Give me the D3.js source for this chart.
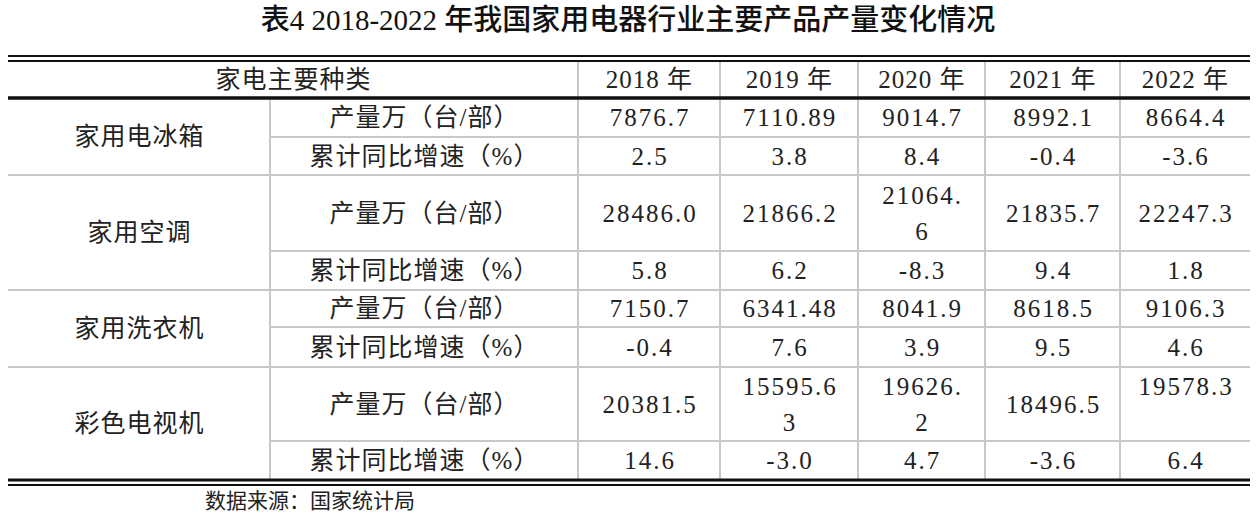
<!DOCTYPE html>
<html><head><meta charset="utf-8">
<script src="https://cdn.jsdelivr.net/npm/d3@7/dist/d3.min.js"></script>
<style>body{margin:0;background:#fff}</style>
</head><body>
<svg id="c" width="1257" height="525"></svg>
<script>
const years = ['2018 年','2019 年','2020 年','2021 年','2022 年'];
const categories = ['家用电冰箱','家用空调','家用洗衣机','彩色电视机'];
const metrics = ['产量万（台/部）','累计同比增速（%）'];
// each cell: text lines (wrapped as in the source)
const fridgeOutput = [['7876.7'],['7110.89'],['9014.7'],['8992.1'],['8664.4']];
const fridgeGrowth = [['2.5'],['3.8'],['8.4'],['-0.4'],['-3.6']];
const acOutput = [['28486.0'],['21866.2'],['21064.','6'],['21835.7'],['22247.3']];
const acGrowth = [['5.8'],['6.2'],['-8.3'],['9.4'],['1.8']];
const washOutput = [['7150.7'],['6341.48'],['8041.9'],['8618.5'],['9106.3']];
const washGrowth = [['-0.4'],['7.6'],['3.9'],['9.5'],['4.6']];
const tvOutput = [['20381.5'],['15595.6','3'],['19626.','2'],['18496.5'],['19578.3','']];
const tvGrowth = [['14.6'],['-3.0'],['4.7'],['-3.6'],['6.4']];

const rows = [fridgeOutput, fridgeGrowth, acOutput, acGrowth, washOutput, washGrowth, tvOutput, tvGrowth];
const rowEdges = [98, 137, 175, 251, 290, 327, 367, 441, 480];
const colEdges = [578, 720, 858, 985, 1120, 1250];
const L = 8, R = 1250, catX = 270;

const svg = d3.select('#c');
const font = '"Liberation Serif","Noto Sans CJK SC",serif';
const fs = 25;

svg.append('text').attr('x', 628).attr('y', 30).attr('text-anchor','middle')
  .attr('font-family', font).attr('font-size', 29).attr('font-weight', 500).attr('fill', '#111')
  .text('表4 2018-2022 年我国家用电器行业主要产品产量变化情况');

const grey = '#c8c8c8';
// grid lines
rowEdges.slice(1, -1).forEach((y, i) => {
  const x0 = (i % 2 === 0) ? catX : L;
  svg.append('line').attr('x1', x0).attr('x2', R).attr('y1', y).attr('y2', y).attr('stroke', grey).attr('stroke-width', 2);
});
colEdges.slice(0, -1).forEach(x => svg.append('line').attr('x1', x).attr('x2', x).attr('y1', 60).attr('y2', 480).attr('stroke', grey).attr('stroke-width', 2));
svg.append('line').attr('x1', catX).attr('x2', catX).attr('y1', 98).attr('y2', 480).attr('stroke', grey).attr('stroke-width', 2);
// black rules
[[56,2],[61,2],[98,3.5],[480,3],[485,2]].forEach(([y,w]) =>
  svg.append('line').attr('x1', L).attr('x2', R).attr('y1', y).attr('y2', y).attr('stroke', '#111').attr('stroke-width', w));

function txt(x, y, s, ls) {
  svg.append('text').attr('x', x + (ls || 0) / 2).attr('y', y).attr('text-anchor','middle').attr('dominant-baseline','central')
    .attr('font-family', font).attr('font-size', fs).attr('fill', '#222')
    .attr('letter-spacing', ls || 0).text(s);
}
// header
txt((L + colEdges[0]) / 2, 79, '家电主要种类', 1);
years.forEach((y, i) => txt((colEdges[i] + colEdges[i+1]) / 2, 79, y, 1));
// categories
categories.forEach((c, i) => txt((L + catX) / 2, (rowEdges[2*i] + rowEdges[2*i+2]) / 2, c, 1));
// metric labels + values
rows.forEach((r, ri) => {
  const y0 = rowEdges[ri], y1 = rowEdges[ri+1], mid = (y0 + y1) / 2;
  txt((catX + colEdges[0]) / 2, mid, metrics[ri % 2], 1);
  r.forEach((lines, ci) => {
    const cx = (colEdges[ci] + colEdges[ci+1]) / 2;
    if (lines.length === 1) txt(cx, mid, lines[0], 2);
    else lines.forEach((s, k) => txt(cx, mid + (k - 0.5) * 36, s, 2));
  });
});
svg.append('text').attr('x', 205).attr('y', 508).attr('font-family', font).attr('font-size', 21).attr('fill','#222')
  .text('数据来源：国家统计局');
</script>
</body></html>
